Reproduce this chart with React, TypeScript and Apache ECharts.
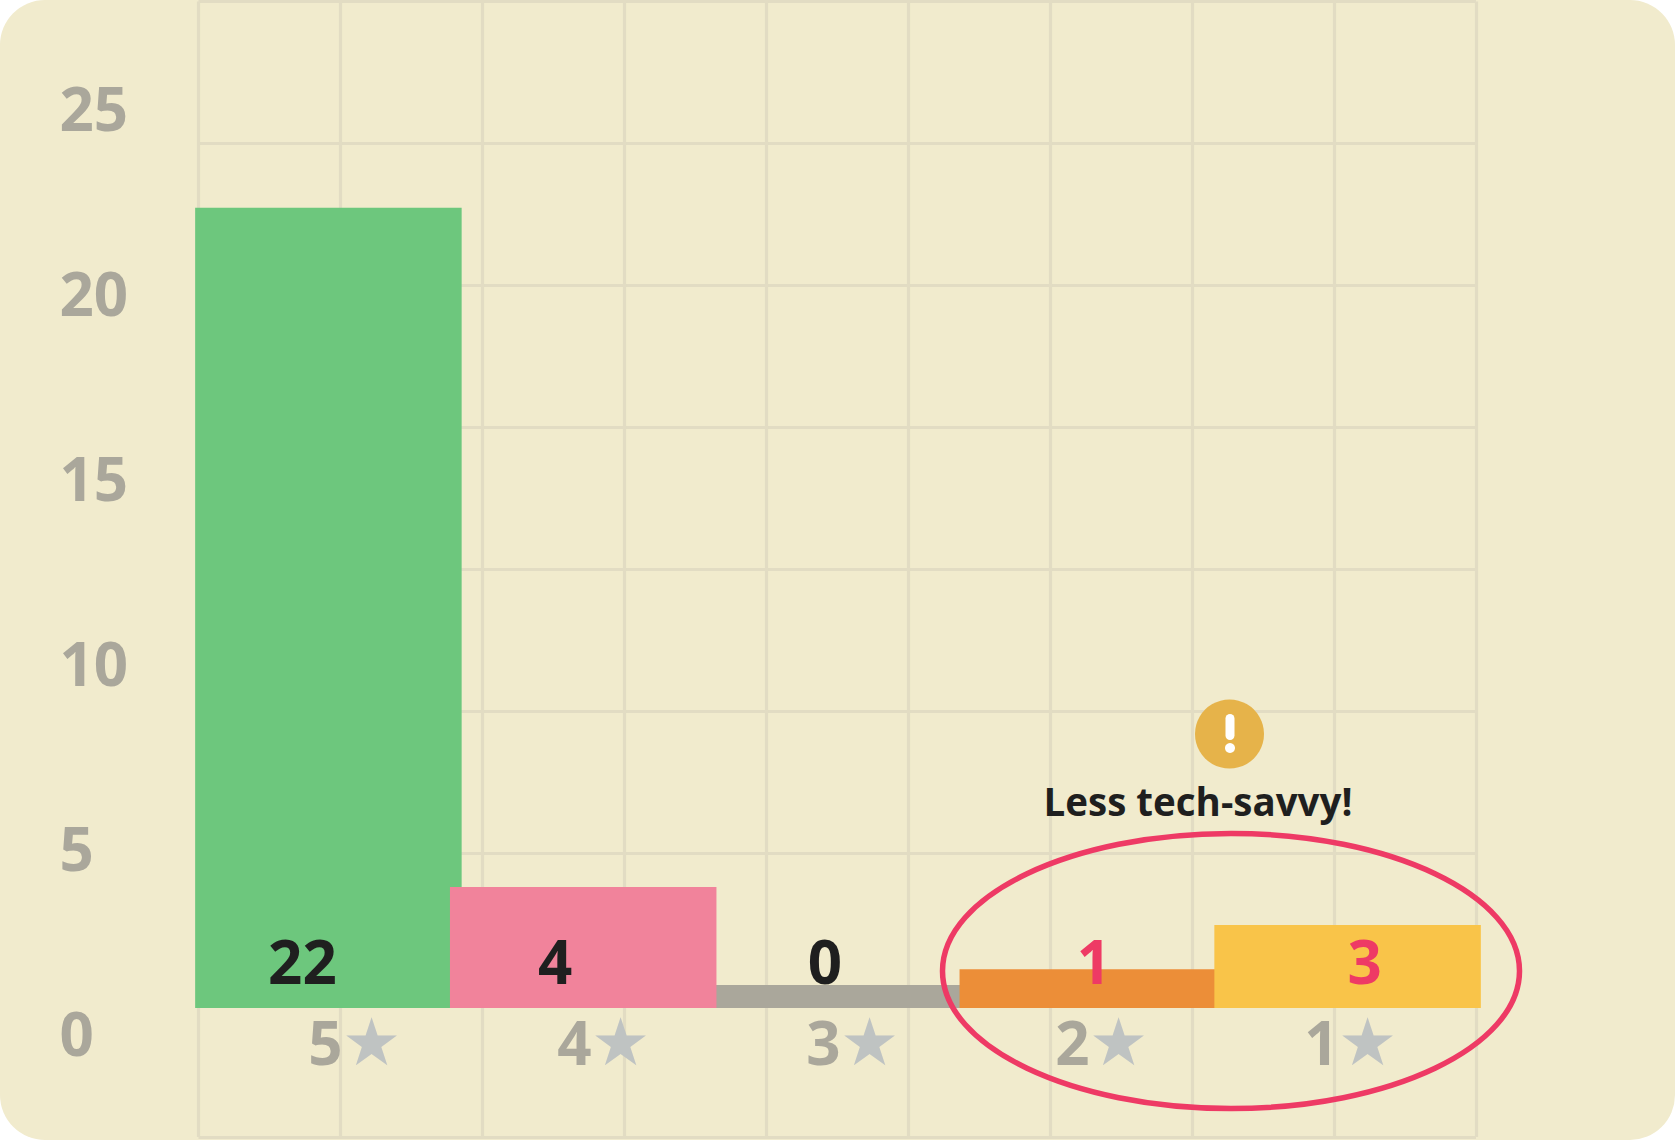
import React, { useEffect, useRef } from "react";
import * as echarts from "echarts";

const ratingLabels = ["5", "4", "3", "2", "1"];
const ratingCounts = [22, 4, 0, 1, 3];
// Heights of the bars as drawn in the picture, in units of the printed axis.
const drawnHeights = [21.63, 3.27, 0.62, 1.05, 2.24];
const valueTicks = [0, 5, 10, 15, 20, 25];
const barColors = ["#6DC77D", "#F1839B", "#AAA79B", "#EC8E38", "#F9C449"];
const countColors = ["#1F1F1F", "#1F1F1F", "#1F1F1F", "#EE3A65", "#EE3A65"];
const countOffsets = [-26, -28, -13, 1, 17];
// Bars painted first (under their neighbours) and bars painted over them.
const underBars = [0, 2];
const overBars = [1, 3, 4];

const FONT = "Open Sans";
const MUTED = "#AAA79B";
const GRID_LINE = "#E2DCC3";
const ACCENT = "#EE3A65";

export default function App() {
  const ref = useRef<HTMLDivElement>(null);
  useEffect(() => {
    document.body.style.margin = "0";
    document.body.style.background = "#fff";
    const chart = echarts.init(ref.current!, null, { renderer: "svg" });
    const hidden = { show: false };
    const barItem = (v: number, i: number) => ({
      value: v,
      itemStyle: { color: barColors[i] },
      label: {
        show: true,
        position: "insideBottom",
        distance: 17,
        offset: [countOffsets[i], 0],
        formatter: String(ratingCounts[i]),
        fontFamily: FONT,
        fontWeight: 700,
        fontSize: 60,
        color: countColors[i],
      },
    });
    const layer = (members: number[], z: number) => ({
      type: "bar",
      xAxisIndex: 0,
      yAxisIndex: 0,
      clip: false,
      barWidth: 266.5,
      stack: "ratings",
      z,
      data: drawnHeights.map((v, i) => (members.includes(i) ? barItem(v, i) : "-")),
    });
    chart.setOption({
      animation: false,
      grid: [
        { left: 201, width: 1274, top: 83, height: 925 },
        { left: 198.5, width: 1277.5, top: 1.5, height: 1135.5 },
        { left: 230.5, width: 1245, top: 108, height: 925 },
      ],
      xAxis: [
        {
          gridIndex: 0, type: "category", data: ratingLabels,
          axisLine: hidden, axisTick: hidden, axisLabel: hidden, splitLine: hidden,
        },
        {
          gridIndex: 1, type: "value", min: 0, max: 9, interval: 1,
          axisLine: hidden, axisTick: hidden, axisLabel: hidden,
          splitLine: { show: true, lineStyle: { color: GRID_LINE, width: 3.2 } },
        },
        {
          gridIndex: 2, type: "category", data: ratingLabels,
          axisLine: hidden, axisTick: hidden, splitLine: hidden,
          axisLabel: {
            show: true,
            margin: -24,
            interval: 0,
            formatter: (v: string) => `{d|${v}}{s|★}`,
            rich: {
              d: { fontFamily: FONT, fontWeight: 700, fontSize: 60, color: MUTED, width: 33 },
              s: { fontFamily: "DejaVu Sans", fontSize: 66, color: "#BFC3C2" },
            },
          },
        },
      ],
      yAxis: [
        {
          gridIndex: 0, type: "value", min: 0, max: 25, interval: 5,
          axisLine: hidden, axisTick: hidden, axisLabel: hidden, splitLine: hidden,
        },
        {
          gridIndex: 1, type: "value", min: 0, max: 8, interval: 1,
          axisLine: hidden, axisTick: hidden, axisLabel: hidden,
          splitLine: { show: true, lineStyle: { color: GRID_LINE, width: 3.2 } },
        },
        {
          gridIndex: 2, type: "value", min: valueTicks[0], max: valueTicks[valueTicks.length - 1], interval: 5,
          axisLine: hidden, axisTick: hidden, splitLine: hidden,
          axisLabel: {
            show: true,
            margin: 171,
            align: "left",
            fontFamily: FONT,
            fontWeight: 700,
            fontSize: 60,
            color: MUTED,
          },
        },
      ],
      series: [layer(underBars, 3), layer(overBars, 4)],
      graphic: [
        {
          type: "ellipse",
          z: 20,
          shape: { cx: 1231, cy: 971, rx: 288.5, ry: 137.5 },
          style: { fill: "none", stroke: ACCENT, lineWidth: 5.5 },
        },
        {
          type: "circle",
          z: 20,
          shape: { cx: 1229.5, cy: 734, r: 34.5 },
          style: { fill: "#E6B34A" },
        },
        {
          type: "rect",
          z: 21,
          shape: { x: 1225.5, y: 714, width: 9, height: 26, r: 4.5 },
          style: { fill: "#FFFFFF" },
        },
        {
          type: "circle",
          z: 21,
          shape: { cx: 1230, cy: 748, r: 5 },
          style: { fill: "#FFFFFF" },
        },
        {
          type: "text",
          z: 21,
          x: 1198,
          y: 801,
          style: {
            text: "Less tech-savvy!",
            fontFamily: FONT,
            fontWeight: 700,
            fontSize: 38.5,
            fill: "#1F1F1F",
            textAlign: "center",
            textVerticalAlign: "middle",
          },
        },
      ],
    });
    return () => chart.dispose();
  }, []);
  return (
    <div
      ref={ref}
      style={{
        width: 1675,
        height: 1140,
        background: "#F1EBCD",
        borderRadius: 45,
        overflow: "hidden",
      }}
    />
  );
}
